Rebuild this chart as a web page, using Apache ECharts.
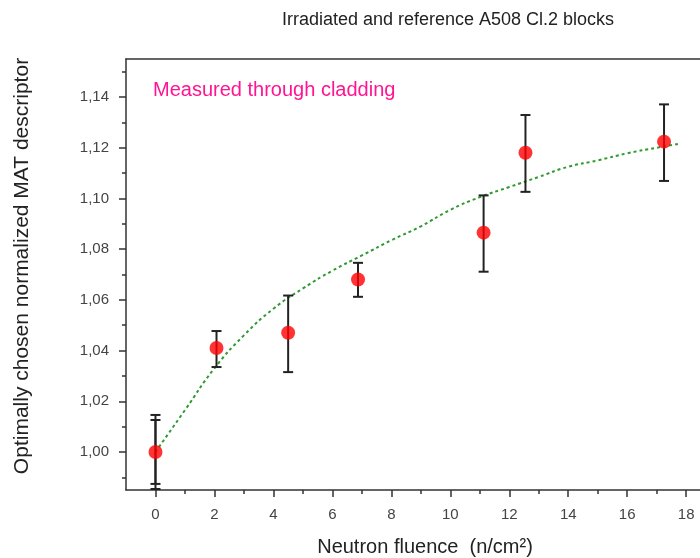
<!DOCTYPE html>
<html lang="en">
<head>
    <meta charset="UTF-8">
    <title>A508 Cl.2 blocks</title>
    <script src="https://cdn.jsdelivr.net/npm/echarts@6/dist/echarts.min.js"></script>
    <style>
        body { margin: 0; padding: 0; background: #fff; }
        #main { width: 700px; height: 558px; }
    </style>
</head>
<body>
    <div id="main"></div>
    <script>
        // measured points
        var fluence = [0, 2.07, 4.5, 6.87, 11.13, 12.55, 17.25];
        var descriptor = [1.000, 1.041, 1.047, 1.068, 1.0865, 1.118, 1.1224];

        // error bars (two overlapping bars at 0)
        var errX = [0, 0, 2.07, 4.5, 6.87, 11.13, 12.55, 17.25];
        var errLow = [0.9854, 0.9874, 1.0335, 1.0315, 1.0612, 1.0711, 1.1026, 1.1069];
        var errHigh = [1.0146, 1.0126, 1.0477, 1.0617, 1.0746, 1.1012, 1.1329, 1.1371];

        // fitted curve (green dotted)
        var fitX = [0, 1, 2, 3, 4, 5, 6, 7, 8, 9, 10, 11, 12, 13, 14, 15, 16, 17, 17.8];
        var fitY = [1.000, 1.0165, 1.033, 1.046, 1.0565, 1.0645, 1.0715, 1.0775, 1.0835, 1.089,
                    1.0955, 1.1005, 1.1045, 1.1085, 1.1125, 1.115, 1.1178, 1.120, 1.1216];

        // ticks
        var xMajor = [0, 2, 4, 6, 8, 10, 12, 14, 16, 18];
        var xMinor = [1, 3, 5, 7, 9, 11, 13, 15, 17];
        var yMajor = [1.00, 1.02, 1.04, 1.06, 1.08, 1.10, 1.12, 1.14];
        var yMinor = [0.99, 1.01, 1.03, 1.05, 1.07, 1.09, 1.11, 1.13, 1.15];

        var X_MIN = -1, X_MAX = 18.47, Y_MIN = 0.985, Y_MAX = 1.155;
        var axisCol = '#333';
        var font = 'Liberation Sans, Arial, sans-serif';

        var chart = echarts.init(document.getElementById('main'));

        function xAx(extra) {
            return Object.assign({
                type: 'value', min: X_MIN, max: X_MAX, position: 'bottom',
                splitLine: { show: false },
                axisLine: { show: false, onZero: false },
                axisTick: { show: false },
                axisLabel: { show: false }
            }, extra);
        }
        function yAx(extra) {
            return Object.assign({
                type: 'value', min: Y_MIN, max: Y_MAX, position: 'left',
                splitLine: { show: false },
                axisLine: { show: false, onZero: false },
                axisTick: { show: false },
                axisLabel: { show: false }
            }, extra);
        }

        chart.setOption({
            animation: false,
            backgroundColor: '#fff',
            grid: { left: 126, top: 59, right: 0, bottom: 68 },
            xAxis: [
                xAx({
                    axisLine: { show: true, onZero: false, lineStyle: { color: axisCol, width: 1.5 } },
                    axisTick: { show: true, length: 7, customValues: xMajor, lineStyle: { color: axisCol, width: 1.5 } },
                    axisLabel: { show: true, customValues: xMajor, color: '#444', fontSize: 15, fontFamily: font, margin: 17 }
                }),
                xAx({
                    axisTick: { show: true, length: 4, customValues: xMinor, lineStyle: { color: axisCol, width: 1.5 } }
                }),
                xAx({
                    position: 'top',
                    axisLine: { show: true, onZero: false, lineStyle: { color: axisCol, width: 1.5 } }
                })
            ],
            yAxis: [
                yAx({
                    axisLine: { show: true, onZero: false, lineStyle: { color: axisCol, width: 1.5 } },
                    axisTick: { show: true, length: 7, customValues: yMajor, lineStyle: { color: axisCol, width: 1.5 } },
                    axisLabel: {
                        show: true, customValues: yMajor, color: '#444', fontSize: 15, fontFamily: font, margin: 17,
                        formatter: function (v) { return v.toFixed(2).replace('.', ','); }
                    }
                }),
                yAx({
                    axisTick: { show: true, length: 4, customValues: yMinor, lineStyle: { color: axisCol, width: 1.5 } }
                })
            ],
            graphic: [
                {
                    type: 'text', x: 448, y: 20,
                    style: { text: 'Irradiated and reference A508 Cl.2 blocks', fill: '#222', font: '18px ' + font,
                             textAlign: 'center', textVerticalAlign: 'middle' }
                },
                {
                    type: 'text', x: 153, y: 90,
                    style: { text: 'Measured through cladding', fill: '#ff1493', font: '20px ' + font,
                             textVerticalAlign: 'middle' }
                },
                {
                    type: 'text', x: 425, y: 547,
                    style: { text: 'Neutron fluence  (n/cm\u00B2)', fill: '#222', font: '20px ' + font,
                             textAlign: 'center', textVerticalAlign: 'middle' }
                },
                {
                    type: 'text', x: 22, y: 266, rotation: Math.PI / 2,
                    style: { text: 'Optimally chosen normalized MAT descriptor', fill: '#222', font: '21px ' + font,
                             textAlign: 'center', textVerticalAlign: 'middle' }
                }
            ],
            series: [
                {
                    type: 'line',
                    data: fitX.map(function (x, i) { return [x, fitY[i]]; }),
                    smooth: true,
                    symbol: 'none',
                    lineStyle: { color: '#2f9a2f', width: 2, type: [3, 3] },
                    z: 2
                },
                {
                    type: 'custom',
                    data: errX.map(function (x, i) { return [x, errLow[i], errHigh[i]]; }),
                    renderItem: function (params, api) {
                        var lo = api.coord([api.value(0), api.value(1)]);
                        var hi = api.coord([api.value(0), api.value(2)]);
                        var w = 5;
                        var st = { stroke: '#222', lineWidth: 2 };
                        return {
                            type: 'group',
                            children: [
                                { type: 'line', shape: { x1: lo[0], y1: lo[1], x2: hi[0], y2: hi[1] }, style: st },
                                { type: 'line', shape: { x1: lo[0] - w, y1: lo[1], x2: lo[0] + w, y2: lo[1] }, style: st },
                                { type: 'line', shape: { x1: hi[0] - w, y1: hi[1], x2: hi[0] + w, y2: hi[1] }, style: st }
                            ]
                        };
                    },
                    z: 3
                },
                {
                    type: 'scatter',
                    data: fluence.map(function (x, i) { return [x, descriptor[i]]; }),
                    symbol: 'circle',
                    symbolSize: 14,
                    itemStyle: { color: '#ff0000' },
                    z: 4
                }
            ]
        });
    </script>
</body>
</html>
